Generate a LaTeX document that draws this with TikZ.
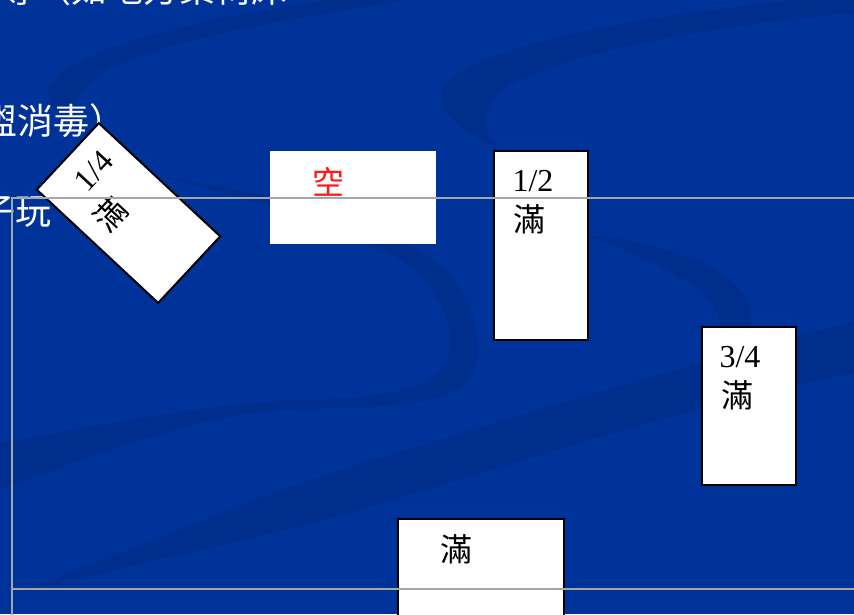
\documentclass[tikz,border=0pt]{standalone}
\usepackage{fontspec}
\setmainfont{Liberation Serif}
\newfontfamily\cjk{Noto Sans CJK TC}
\definecolor{bgblue}{RGB}{0,51,153}
\definecolor{swooshblue}{RGB}{0,46,140}
\definecolor{framegray}{RGB}{166,166,166}
\definecolor{inkred}{RGB}{255,25,25}
\tikzset{
  tank/.style={draw=black, line width=2pt, fill=white, inner sep=0pt, anchor=north west},
  blank/.style={fill=white, inner sep=0pt, anchor=north west},
  boxtext/.style={inner sep=0pt, text=black, font=\fontsize{32}{38}\selectfont},
  boxcjk/.style={inner sep=0pt, text=black, font=\cjk\fontsize{32}{38}\selectfont},
  slidetext/.style={inner sep=0pt, anchor=base west, text=white, font=\cjk\fontsize{36}{42}\selectfont},
  swoosh/.style={fill=swooshblue},
  frameline/.style={draw=framegray, line width=2pt},
}
\begin{document}
\begin{tikzpicture}[x=1pt,y=-1pt]
\useasboundingbox (0,0) rectangle (854,614);
\clip (0,0) rectangle (854,614);
\fill[bgblue] (0,0) rectangle (854,614);
% background swooshes
\fill[swoosh] (870,-6) .. controls (700,5) and (480,40) .. (445,85)
  .. controls (430,110) and (470,140) .. (500,148)
  .. controls (480,130) and (480,105) .. (510,85)
  .. controls (580,45) and (760,20) .. (870,12) -- cycle;
\fill[swoosh] (380,-6) .. controls (250,8) and (80,40) .. (50,85)
  .. controls (42,100) and (55,115) .. (78,120)
  .. controls (70,105) and (80,85) .. (110,68)
  .. controls (180,35) and (320,15) .. (440,-6) -- cycle;
\fill[swoosh] (160,176) .. controls (250,190) and (400,220) .. (450,275)
  .. controls (475,300) and (480,340) .. (477,360)
  .. controls (472,400) and (420,408) .. (300,409)
  .. controls (200,412) and (80,460) .. (0,490) -- (0,443)
  .. controls (100,425) and (220,402) .. (300,400)
  .. controls (400,398) and (450,385) .. (450,345)
  .. controls (450,310) and (430,280) .. (400,260)
  .. controls (350,230) and (250,200) .. (160,176) -- cycle;
\fill[swoosh] (580,234) .. controls (650,240) and (720,260) .. (745,295)
  .. controls (755,312) and (752,330) .. (740,345) -- (720,345)
  .. controls (725,330) and (715,300) .. (700,290)
  .. controls (670,268) and (630,250) .. (580,234) -- cycle;
\fill[swoosh] (20,592) -- (300,483) .. controls (500,420) and (700,360) .. (870,318)
  -- (870,370) .. controls (700,400) and (500,470) .. (300,527) -- cycle;
% slide text
\node[slidetext] (row1) at (-1,2.5) {等（如地方桌椅床};
\node[slidetext] (row2) at (-19,134.5) {盥消毒）};
\node[slidetext] (row3) at (-21,224.5) {子玩};
% containers
\node[tank, anchor=center, rotate=47, minimum width=91pt, minimum height=166pt] (quarter) at (128.5,213) {};
\node[boxtext, rotate=47] (quartertxt) at (94,171) {1/4};
\node[boxcjk, rotate=47] (quarterfull) at (110,214) {滿};
\node[blank, minimum width=166pt, minimum height=93pt] (empty) at (270,151) {};
\node[boxcjk, text=inkred] (emptytxt) at (328,181.5) {空};
\node[tank, minimum width=94pt, minimum height=189pt] (half) at (493,150) {};
\node[boxtext] (halftxt) at (533,181) {1/2};
\node[boxcjk] (halffull) at (529,219) {滿};
\node[tank, minimum width=94pt, minimum height=158pt] (threeq) at (701,326) {};
\node[boxtext] (threeqtxt) at (740,357.5) {3/4};
\node[boxcjk] (threeqfull) at (737,395) {滿};
\node[tank, minimum width=166pt, minimum height=120pt] (full) at (397,518) {};
\node[boxcjk] (fulltxt) at (456,549) {滿};
% frame lines
\draw[frameline] (860,198) -- (11.5,198) -- (11.5,620);
\draw[frameline] (11.5,589.3) -- (860,589.3);
\end{tikzpicture}
\end{document}
